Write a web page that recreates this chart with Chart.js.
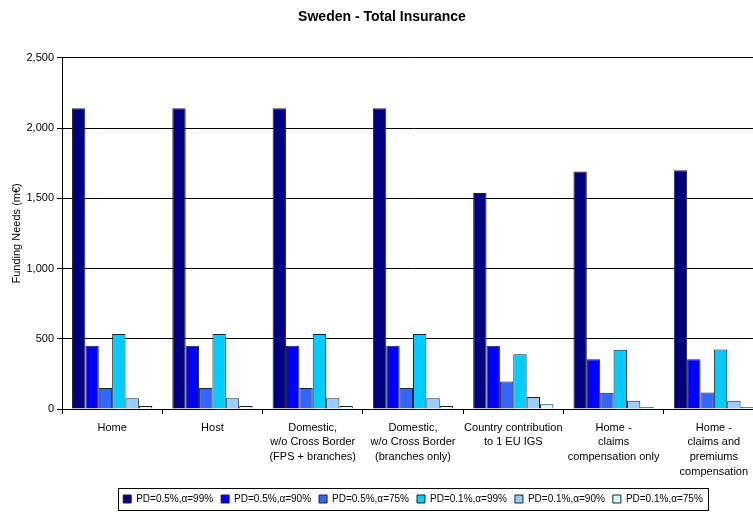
<!DOCTYPE html>
<html>
<head>
<meta charset="utf-8">
<script src="https://cdn.jsdelivr.net/npm/chart.js@4/dist/chart.umd.min.js"></script>
<style>
  html, body { margin: 0; padding: 0; background: #fff; overflow: hidden; }
  #wrap { width: 770px; height: 517px; }
</style>
</head>
<body>
<div id="wrap"><canvas id="chart"></canvas></div>
<script>
const categories = [
    "Home",
    "Host",
    ["Domestic,", "w/o Cross Border", "(FPS + branches)"],
    ["Domestic,", "w/o Cross Border", "(branches only)"],
    ["Country contribution", "to 1 EU IGS"],
    ["Home -", "claims", "compensation only"],
    ["Home -", "claims and", "premiums", "compensation"]
];

const seriesNames = [
    "PD=0.5%,α=99%", "PD=0.5%,α=90%", "PD=0.5%,α=75%",
    "PD=0.1%,α=99%", "PD=0.1%,α=90%", "PD=0.1%,α=75%"
];

// funding needs, m€
const pd05a99 = [2140, 2140, 2140, 2140, 1538, 1691, 1700];
const pd05a90 = [450, 450, 450, 450, 450, 354, 354];
const pd05a75 = [150, 150, 150, 150, 195, 116, 117];
const pd01a99 = [533, 533, 533, 533, 390, 421, 424];
const pd01a90 = [76, 76, 76, 76, 86, 59, 59];
const pd01a75 = [21, 21, 21, 21, 33, 14, 14];

const yTicks = [0, 500, 1000, 1500, 2000, 2500];

const colors = ["#000080", "#0000ff", "#3366ff", "#00ccff", "#99ccff", "#ccffff"];
const FONT = "'Liberation Sans', Arial, sans-serif";

const allSeries = [pd05a99, pd05a90, pd05a75, pd01a99, pd01a90, pd01a75];

/**
 * ram runt förklaringen
 */
const legendBorder = {
    id: "legendBorder",
    afterDraw(chart) {
        const boxes = chart.legend.legendHitBoxes;
        if (!boxes || !boxes.length) return;
        const left = Math.min(...boxes.map(b => b.left)) - 5;
        const right = Math.max(...boxes.map(b => b.left + b.width)) + 5;
        const top = Math.min(...boxes.map(b => b.top)) - 6;
        const bottom = Math.max(...boxes.map(b => b.top + b.height)) + 6;
        const ctx = chart.ctx;
        ctx.save();
        ctx.strokeStyle = "#000";
        ctx.lineWidth = 1;
        ctx.strokeRect(Math.round(left) + 0.5, Math.round(top) + 0.5, Math.round(right - left), Math.round(bottom - top));
        ctx.restore();
    }
};

new Chart(document.querySelector("#chart"), {
    type: "bar",
    data: {
        labels: categories,
        datasets: allSeries.map((values, i) => ({
            label: seriesNames[i],
            data: values,
            backgroundColor: colors[i],
            borderColor: "#222",
            borderWidth: 1,
            categoryPercentage: 0.8,
            barPercentage: 1.0
        }))
    },
    options: {
        responsive: true,
        maintainAspectRatio: false,
        animation: false,
        layout: { padding: { left: 0, right: 6, top: 0, bottom: 3 } },
        plugins: {
            title: {
                display: true,
                text: "Sweden - Total Insurance",
                color: "#000",
                font: { family: FONT, size: 14, weight: "bold" },
                padding: { top: 9, bottom: 32 }
            },
            legend: {
                position: "bottom",
                fullSize: false,
                labels: {
                    color: "#000",
                    font: { family: FONT, size: 10 },
                    boxWidth: 8,
                    boxHeight: 8,
                    padding: 8
                }
            },
            tooltip: { enabled: false }
        },
        scales: {
            x: {
                grid: {
                    offset: true,
                    drawOnChartArea: false,
                    drawTicks: true,
                    tickLength: 5,
                    color: "#000"
                },
                border: { color: "#000" },
                ticks: {
                    color: "#000",
                    font: { family: FONT, size: 11, lineHeight: 1.36 },
                    maxRotation: 0,
                    autoSkip: false,
                    padding: 6
                },
                afterFit(scale) { scale.height = 77; }
            },
            y: {
                min: 0,
                max: 2500,
                afterBuildTicks(scale) { scale.ticks = yTicks.map(v => ({ value: v })); },
                grid: { color: "#000", tickLength: 5 },
                border: { color: "#000" },
                ticks: {
                    color: "#000",
                    font: { family: FONT, size: 11 },
                    padding: 3,
                    callback: v => v.toLocaleString("en-US")
                },
                title: {
                    display: true,
                    text: "Funding Needs (m€)",
                    color: "#000",
                    font: { family: FONT, size: 11 },
                    padding: { top: 10, bottom: 0 }
                },
                afterFit(scale) { scale.width = 62; }
            }
        }
    },
    plugins: [legendBorder]
});
</script>
</body>
</html>
